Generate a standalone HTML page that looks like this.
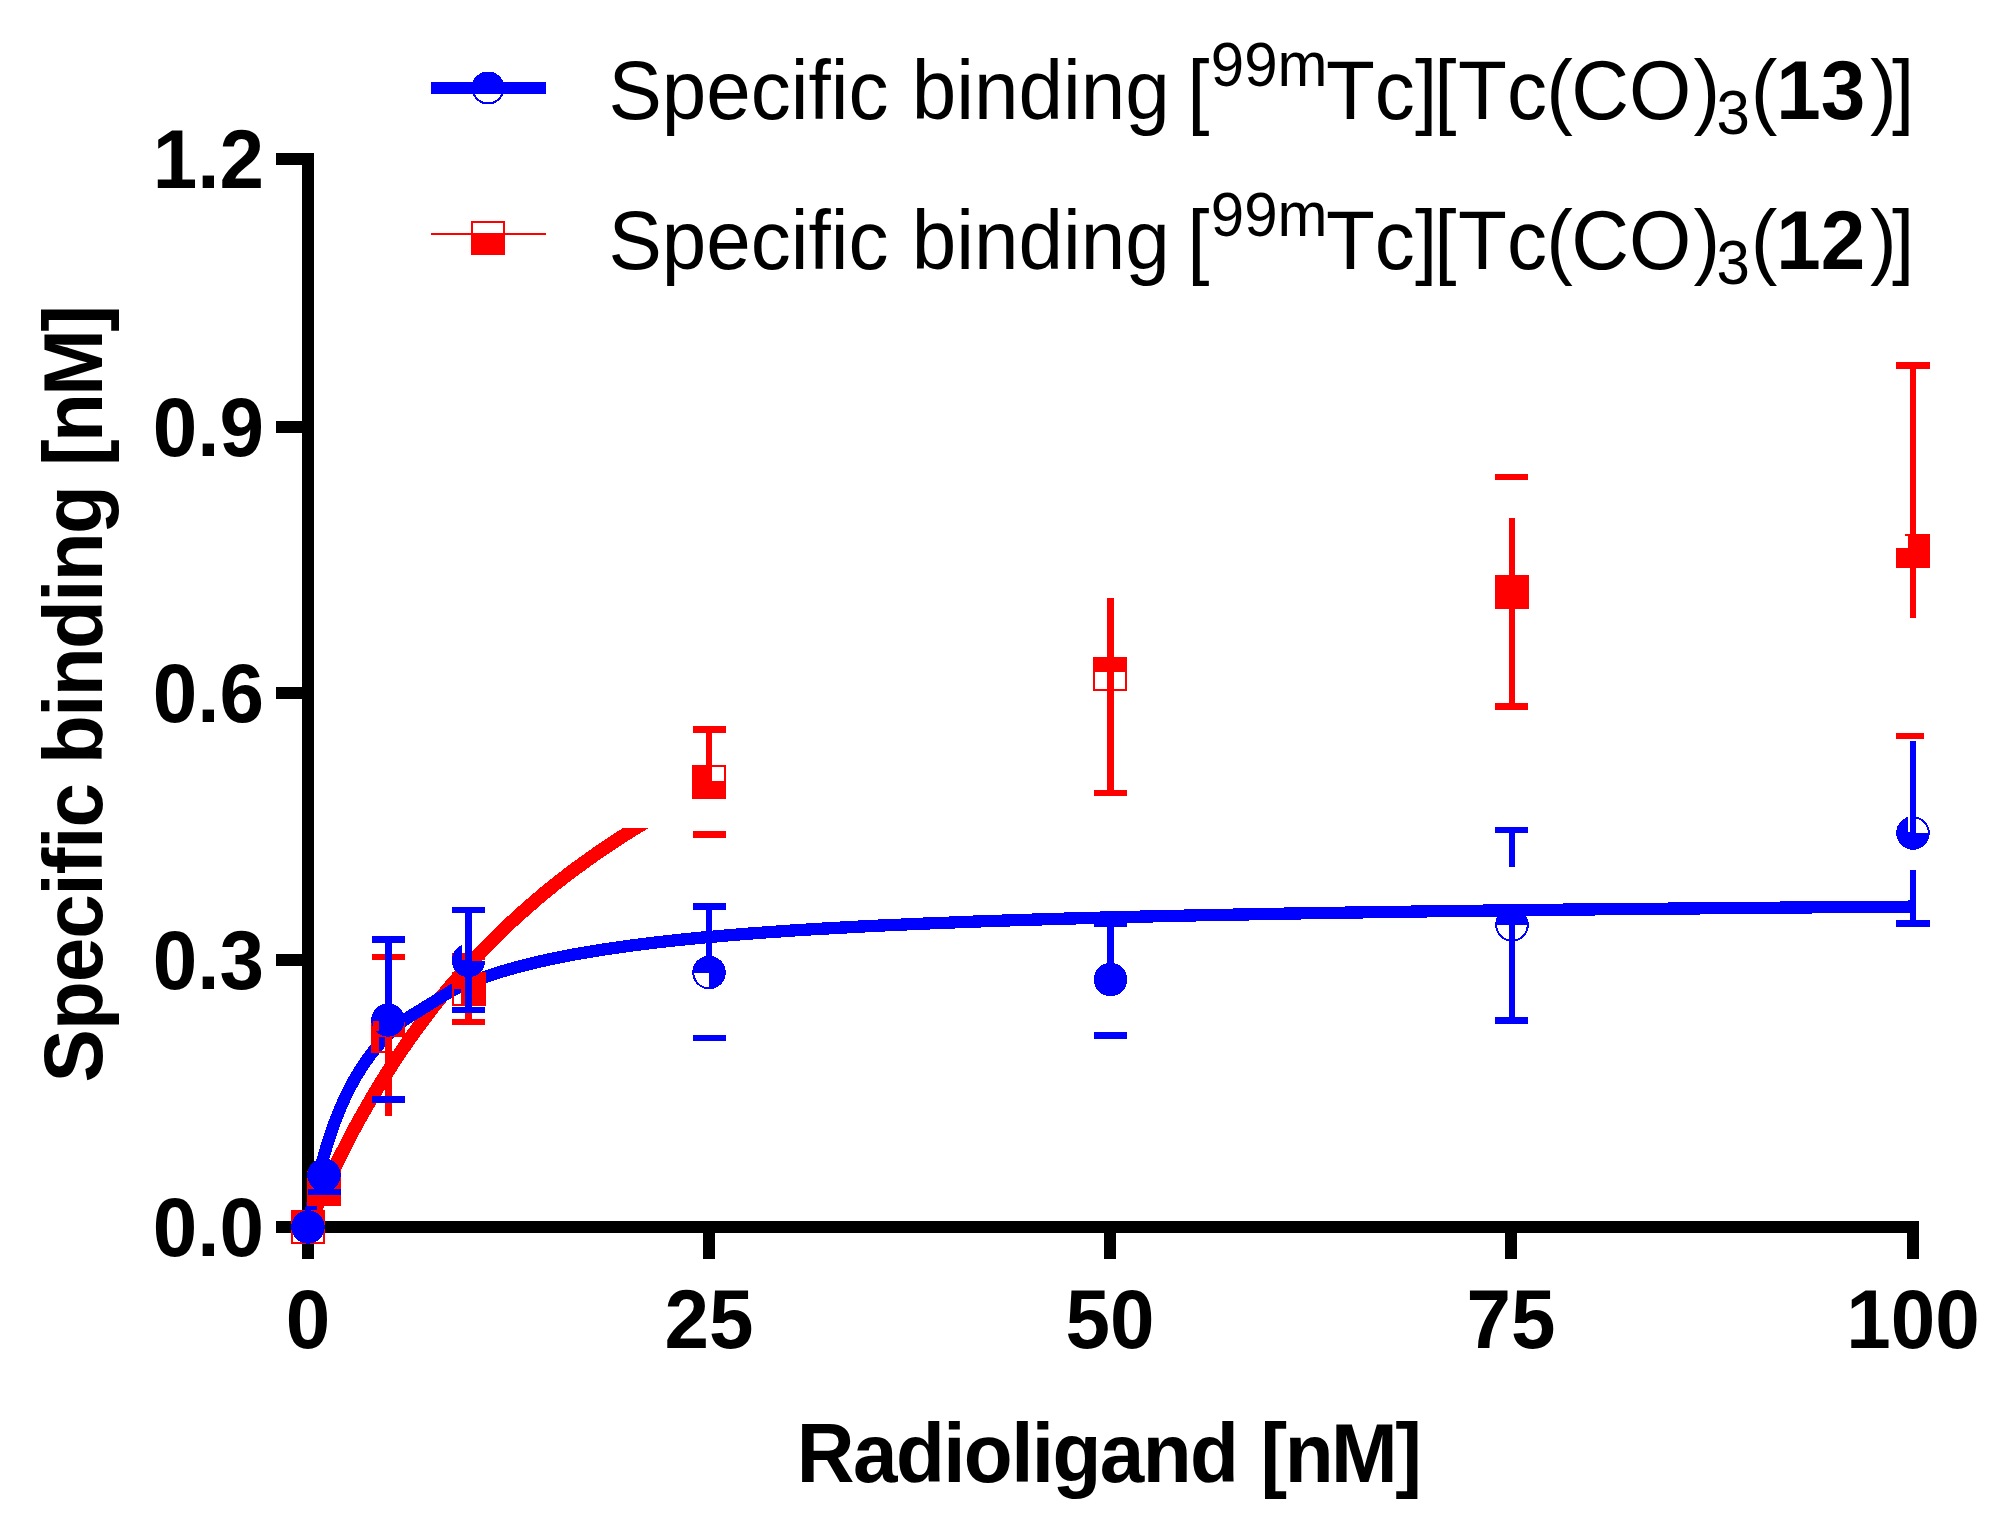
<!DOCTYPE html>
<html lang="en"><head><meta charset="utf-8"><title>Specific binding saturation curves</title>
<style>
html,body{margin:0;padding:0;background:#fff;}
body{width:2008px;height:1523px;overflow:hidden;}
svg{display:block;}
text{font-family:"Liberation Sans",sans-serif;fill:#000;font-kerning:none;}
.b{font-weight:bold;font-size:80px;}
.lg{font-size:80px;}
.ss{font-size:60px;}
.bd{font-weight:bold;}
</style></head><body>
<svg width="2008" height="1523" viewBox="0 0 2008 1523" shape-rendering="crispEdges">
<rect x="0" y="0" width="2008" height="1523" fill="#fff"/>
<g shape-rendering="crispEdges" fill="#000">
<rect x="302" y="153" width="12" height="1106" fill="#000"/>
<rect x="276" y="1221" width="1643" height="12" fill="#000"/>
<rect x="276" y="153" width="27" height="12" fill="#000"/>
<rect x="276" y="421" width="27" height="12" fill="#000"/>
<rect x="276" y="687" width="27" height="12" fill="#000"/>
<rect x="276" y="954" width="27" height="12" fill="#000"/>
<rect x="703" y="1232" width="12" height="27" fill="#000"/>
<rect x="1104" y="1232" width="12" height="27" fill="#000"/>
<rect x="1505" y="1232" width="12" height="27" fill="#000"/>
<rect x="1907" y="1232" width="12" height="27" fill="#000"/>
</g>
<text class="b" transform="translate(264,188) scale(1,1.04)" text-anchor="end">1.2</text>
<text class="b" transform="translate(264,456) scale(1,1.04)" text-anchor="end">0.9</text>
<text class="b" transform="translate(264,722) scale(1,1.04)" text-anchor="end">0.6</text>
<text class="b" transform="translate(264,989) scale(1,1.04)" text-anchor="end">0.3</text>
<text class="b" transform="translate(264,1256) scale(1,1.04)" text-anchor="end">0.0</text>
<text class="b" transform="translate(308,1347.8) scale(1,1.04)" text-anchor="middle">0</text>
<text class="b" transform="translate(709,1347.8) scale(1,1.04)" text-anchor="middle">25</text>
<text class="b" transform="translate(1110,1347.8) scale(1,1.04)" text-anchor="middle">50</text>
<text class="b" transform="translate(1511,1347.8) scale(1,1.04)" text-anchor="middle">75</text>
<text class="b" transform="translate(1913,1347.8) scale(1,1.04)" text-anchor="middle">100</text>
<text class="b" transform="translate(796.8,1482) scale(1,1.04)" style="letter-spacing:-1.57px">Radioligand</text>
<text class="b" transform="translate(1260.5,1482) scale(1,1.04)" style="letter-spacing:-2.5px">[nM]</text>
<text class="b" transform="translate(101.7,1082.4) rotate(-90) scale(1,1.04)" style="letter-spacing:-1.06px">Specific</text>
<text class="b" transform="translate(101.7,764) rotate(-90) scale(1,1.04)" style="letter-spacing:-1.65px">binding</text>
<text class="b" transform="translate(101.7,465.9) rotate(-90) scale(1,1.04)" style="letter-spacing:-2.67px">[nM]</text>
<text class="lg" transform="translate(0,119) scale(1,1.04)"><tspan x="608.5" y="0">Specific</tspan><tspan x="911.7" y="0">binding</tspan><tspan x="1187.2" y="0">[</tspan><tspan x="1210.8" y="-31.9231" class="ss">99m</tspan><tspan x="1325.9" y="0">Tc</tspan><tspan x="1414.9" y="0">]</tspan><tspan x="1434.3" y="0">[</tspan><tspan x="1458.1" y="0">Tc</tspan><tspan x="1546.3" y="0">(</tspan><tspan x="1571.2" y="0">CO</tspan><tspan x="1693.5" y="0">)</tspan><tspan x="1716.6" y="14.6154" class="ss">3</tspan><tspan x="1750.8" y="0">(</tspan><tspan x="1776.25" y="0" class="bd">13</tspan><tspan x="1870" y="0">)</tspan><tspan x="1891.9" y="0">]</tspan></text>
<text class="lg" transform="translate(0,269) scale(1,1.04)"><tspan x="608.5" y="0">Specific</tspan><tspan x="911.7" y="0">binding</tspan><tspan x="1187.2" y="0">[</tspan><tspan x="1210.8" y="-31.9231" class="ss">99m</tspan><tspan x="1325.9" y="0">Tc</tspan><tspan x="1414.9" y="0">]</tspan><tspan x="1434.3" y="0">[</tspan><tspan x="1458.1" y="0">Tc</tspan><tspan x="1546.3" y="0">(</tspan><tspan x="1571.2" y="0">CO</tspan><tspan x="1693.5" y="0">)</tspan><tspan x="1716.6" y="14.6154" class="ss">3</tspan><tspan x="1750.8" y="0">(</tspan><tspan x="1776.25" y="0" class="bd">12</tspan><tspan x="1870" y="0">)</tspan><tspan x="1891.9" y="0">]</tspan></text>
<g shape-rendering="crispEdges">
<rect x="431" y="82" width="115" height="12" fill="#0000ff"/>
</g>
<circle cx="488" cy="88" r="15.5" fill="#fff" stroke="#0000ff" stroke-width="2"/>
<path d="M471.5,88 A16.5,16.5 0 0 1 504.5,88 Z" fill="#0000ff"/>
<g shape-rendering="crispEdges">
<rect x="431" y="82" width="41" height="12" fill="#0000ff"/>
<rect x="504" y="82" width="42" height="12" fill="#0000ff"/>
<rect x="472" y="82" width="32" height="12" fill="#0000ff"/>
</g>
<g shape-rendering="crispEdges">
<rect x="431" y="233" width="115" height="2" fill="#ff0000"/>
<rect x="471" y="221" width="34" height="34" fill="#ff0000"/>
<rect x="473" y="223" width="30" height="10" fill="#fff"/>
</g>
<defs><clipPath id="rc"><rect x="300" y="828" width="500" height="420"/></clipPath></defs>
<path d="M308.0,1227.0 L311.2,1219.3 L314.4,1211.8 L317.6,1204.4 L320.8,1197.2 L324.1,1190.1 L327.3,1183.1 L330.5,1176.2 L333.7,1169.5 L336.9,1162.8 L340.1,1156.3 L343.3,1150.0 L346.5,1143.7 L349.7,1137.5 L352.9,1131.4 L356.1,1125.5 L359.4,1119.6 L362.6,1113.8 L365.8,1108.2 L369.0,1102.6 L372.2,1097.1 L375.4,1091.7 L378.6,1086.4 L381.8,1081.1 L385.0,1076.0 L388.2,1070.9 L391.5,1065.9 L394.7,1061.0 L397.9,1056.1 L401.1,1051.4 L404.3,1046.7 L407.5,1042.0 L410.7,1037.5 L413.9,1033.0 L417.1,1028.6 L420.4,1024.2 L423.6,1019.9 L426.8,1015.6 L430.0,1011.5 L433.2,1007.3 L436.4,1003.3 L439.6,999.3 L442.8,995.3 L446.0,991.4 L449.2,987.5 L452.5,983.7 L455.7,980.0 L458.9,976.3 L462.1,972.6 L465.3,969.0 L468.5,965.5 L471.7,962.0 L474.9,958.5 L478.1,955.1 L481.3,951.7 L484.6,948.4 L487.8,945.1 L491.0,941.8 L494.2,938.6 L497.4,935.5 L500.6,932.3 L503.8,929.2 L507.0,926.2 L510.2,923.1 L513.4,920.2 L516.6,917.2 L519.9,914.3 L523.1,911.4 L526.3,908.6 L529.5,905.8 L532.7,903.0 L535.9,900.2 L539.1,897.5 L542.3,894.8 L545.5,892.1 L548.8,889.5 L552.0,886.9 L555.2,884.3 L558.4,881.8 L561.6,879.3 L564.8,876.8 L568.0,874.3 L571.2,871.9 L574.4,869.5 L577.6,867.1 L580.9,864.8 L584.1,862.4 L587.3,860.1 L590.5,857.8 L593.7,855.6 L596.9,853.3 L600.1,851.1 L603.3,848.9 L606.5,846.8 L609.7,844.6 L613.0,842.5 L616.2,840.4 L619.4,838.3 L622.6,836.2 L625.8,834.2 L629.0,832.2 L632.2,830.2 L635.4,828.2 L638.6,826.2 L641.8,824.3 L645.0,822.3 L648.3,820.4 L651.5,818.5 L654.7,816.7 L657.9,814.8 L661.1,813.0 L664.3,811.2 L667.5,809.4 L670.7,807.6 L673.9,805.8 L677.2,804.0 L680.4,802.3 L683.6,800.6 L686.8,798.9 L690.0,797.2 L693.2,795.5" fill="none" stroke="#ff0000" stroke-width="13.5" stroke-linejoin="round" clip-path="url(#rc)"/>
<path d="M308.0,1227.0 L309.6,1218.1 L311.2,1209.6 L312.8,1201.6 L314.4,1193.9 L316.0,1186.7 L317.6,1179.8 L319.2,1173.2 L320.8,1166.9 L322.4,1160.8 L324.1,1155.1 L325.7,1149.6 L327.3,1144.3 L328.9,1139.2 L330.5,1134.3 L332.1,1129.7 L333.7,1125.2 L335.3,1120.8 L336.9,1116.7 L338.5,1112.7 L340.1,1108.8 L341.7,1105.0 L343.3,1101.4 L344.9,1097.9 L346.5,1094.6 L348.1,1091.3 L349.7,1088.1 L351.3,1085.1 L352.9,1082.1 L354.5,1079.3 L356.1,1076.5 L357.8,1073.8 L359.4,1071.1 L361.0,1068.6 L362.6,1066.1 L364.2,1063.7 L365.8,1061.4 L367.4,1059.1 L369.0,1056.9 L370.6,1054.7 L372.2,1052.6 L373.8,1050.6 L375.4,1048.6 L377.0,1046.7 L378.6,1044.8 L380.2,1042.9 L381.8,1041.1 L383.4,1039.4 L385.0,1037.7 L386.6,1036.0 L388.2,1034.4 L389.9,1032.8 L391.5,1031.2 L393.1,1029.7 L394.7,1028.2 L396.3,1026.7 L397.9,1025.3 L399.5,1023.9 L401.1,1022.5 L402.7,1021.2 L404.3,1019.9 L452.5,990.2 L460.5,986.6 L468.5,983.2 L476.5,980.1 L484.6,977.2 L492.6,974.4 L500.6,971.9 L508.6,969.5 L516.6,967.3 L524.7,965.2 L532.7,963.2 L540.7,961.3 L548.8,959.5 L556.8,957.8 L564.8,956.2 L572.8,954.7 L580.9,953.3 L588.9,951.9 L596.9,950.6 L604.9,949.3 L613.0,948.1 L621.0,947.0 L629.0,945.9 L637.0,944.8 L645.0,943.8 L653.1,942.8 L661.1,941.9 L669.1,941.0 L677.2,940.1 L685.2,939.3 L693.2,938.5 L701.2,937.7 L709.2,937.0 L717.3,936.3 L725.3,935.6 L733.3,934.9 L741.4,934.2 L749.4,933.6 L757.4,933.0 L765.4,932.4 L773.5,931.8 L781.5,931.3 L789.5,930.7 L797.5,930.2 L805.5,929.7 L813.6,929.2 L821.6,928.7 L829.6,928.3 L837.6,927.8 L845.7,927.4 L853.7,926.9 L861.7,926.5 L869.8,926.1 L877.8,925.7 L885.8,925.3 L893.8,925.0 L901.9,924.6 L909.9,924.2 L917.9,923.9 L925.9,923.5 L934.0,923.2 L942.0,922.9 L950.0,922.6 L958.0,922.2 L966.1,921.9 L974.1,921.6 L982.1,921.3 L990.1,921.1 L998.1,920.8 L1006.2,920.5 L1014.2,920.2 L1022.2,920.0 L1030.2,919.7 L1038.3,919.5 L1046.3,919.2 L1054.3,919.0 L1062.3,918.7 L1070.4,918.5 L1078.4,918.3 L1086.4,918.1 L1094.5,917.8 L1102.5,917.6 L1110.5,917.4 L1118.5,917.2 L1126.6,917.0 L1134.6,916.8 L1142.6,916.6 L1150.6,916.4 L1158.7,916.2 L1166.7,916.0 L1174.7,915.9 L1182.7,915.7 L1190.8,915.5 L1198.8,915.3 L1206.8,915.2 L1214.8,915.0 L1222.8,914.8 L1230.9,914.7 L1238.9,914.5 L1246.9,914.4 L1255.0,914.2 L1263.0,914.0 L1271.0,913.9 L1279.0,913.8 L1287.1,913.6 L1295.1,913.5 L1303.1,913.3 L1311.1,913.2 L1319.2,913.0 L1327.2,912.9 L1335.2,912.8 L1343.2,912.7 L1351.2,912.5 L1359.3,912.4 L1367.3,912.3 L1375.3,912.2 L1383.4,912.0 L1391.4,911.9 L1399.4,911.8 L1407.4,911.7 L1415.5,911.6 L1423.5,911.4 L1431.5,911.3 L1439.5,911.2 L1447.5,911.1 L1455.6,911.0 L1463.6,910.9 L1471.6,910.8 L1479.7,910.7 L1487.7,910.6 L1495.7,910.5 L1503.7,910.4 L1511.8,910.3 L1519.8,910.2 L1527.8,910.1 L1535.8,910.0 L1543.9,909.9 L1551.9,909.8 L1559.9,909.7 L1567.9,909.6 L1576.0,909.6 L1584.0,909.5 L1592.0,909.4 L1600.0,909.3 L1608.0,909.2 L1616.1,909.1 L1624.1,909.1 L1632.1,909.0 L1640.2,908.9 L1648.2,908.8 L1656.2,908.7 L1664.2,908.7 L1672.2,908.6 L1680.3,908.5 L1688.3,908.4 L1696.3,908.4 L1704.4,908.3 L1712.4,908.2 L1720.4,908.1 L1728.4,908.1 L1736.5,908.0 L1744.5,907.9 L1752.5,907.9 L1760.5,907.8 L1768.5,907.7 L1776.6,907.7 L1784.6,907.6 L1792.6,907.5 L1800.7,907.5 L1808.7,907.4 L1816.7,907.3 L1824.7,907.3 L1832.8,907.2 L1840.8,907.1 L1848.8,907.1 L1856.8,907.0 L1864.9,907.0 L1872.9,906.9 L1880.9,906.8 L1888.9,906.8 L1897.0,906.7 L1905.0,906.7 L1913.0,906.6" fill="none" stroke="#0000ff" stroke-width="12.3" stroke-linejoin="round"/>
<g shape-rendering="crispEdges">
<rect x="291" y="1210" width="34" height="19" fill="#ff0000"/>
<rect x="291" y="1229" width="2" height="15" fill="#ff0000"/>
<rect x="323" y="1229" width="2" height="15" fill="#ff0000"/>
<rect x="291" y="1242" width="34" height="2" fill="#ff0000"/>
<rect x="307" y="1171" width="34" height="35" fill="#ff0000"/>
<rect x="317" y="1206" width="5" height="5" fill="#ff0000"/>
<rect x="385" y="954" width="7" height="162" fill="#ff0000"/>
<rect x="372" y="954" width="33" height="6" fill="#ff0000"/>
<rect x="371" y="1020" width="34" height="17" fill="#ff0000"/>
<rect x="371" y="1037" width="8" height="16" fill="#ff0000"/>
<rect x="379" y="1051" width="26" height="2" fill="#ff0000"/>
<rect x="403" y="1037" width="2" height="16" fill="#ff0000"/>
<rect x="465" y="953" width="7" height="72" fill="#ff0000"/>
<rect x="452" y="953" width="33" height="7" fill="#ff0000"/>
<rect x="452" y="1019" width="33" height="6" fill="#ff0000"/>
<rect x="452" y="972" width="34" height="17" fill="#ff0000"/>
<rect x="452" y="989" width="2" height="17" fill="#ff0000"/>
<rect x="461" y="989" width="25" height="17" fill="#ff0000"/>
<rect x="454" y="1004" width="7" height="2" fill="#ff0000"/>
<rect x="693" y="726" width="33" height="7" fill="#ff0000"/>
<rect x="706" y="726" width="6" height="56" fill="#ff0000"/>
<rect x="693" y="831" width="33" height="7" fill="#ff0000"/>
<rect x="692" y="765" width="34" height="34" fill="#ff0000"/>
<rect x="712" y="767" width="12" height="14" fill="#fff"/>
<rect x="1107" y="598" width="7" height="198" fill="#ff0000"/>
<rect x="1094" y="790" width="33" height="6" fill="#ff0000"/>
<rect x="1093" y="657" width="34" height="34" fill="#ff0000"/>
<rect x="1095" y="672" width="12" height="17" fill="#fff"/>
<rect x="1114" y="672" width="11" height="17" fill="#fff"/>
<rect x="1495" y="474" width="33" height="6" fill="#ff0000"/>
<rect x="1509" y="518" width="6" height="192" fill="#ff0000"/>
<rect x="1495" y="703" width="33" height="7" fill="#ff0000"/>
<rect x="1495" y="575" width="34" height="34" fill="#ff0000"/>
<rect x="1896" y="362" width="34" height="7" fill="#ff0000"/>
<rect x="1910" y="362" width="6" height="256" fill="#ff0000"/>
<rect x="1896" y="733" width="28" height="6" fill="#ff0000"/>
<rect x="1896" y="534" width="34" height="34" fill="#ff0000"/>
<rect x="1896" y="534" width="12" height="14" fill="#fff"/>
<rect x="1905" y="534" width="3" height="2" fill="#ff0000"/>
</g>
<g shape-rendering="crispEdges">
<rect x="308" y="1189" width="33" height="6" fill="#0000ff"/>
<rect x="372" y="936" width="33" height="7" fill="#0000ff"/>
<rect x="385" y="936" width="7" height="84" fill="#0000ff"/>
<rect x="372" y="1096" width="33" height="7" fill="#0000ff"/>
<rect x="452" y="907" width="33" height="6" fill="#0000ff"/>
<rect x="465" y="907" width="7" height="106" fill="#0000ff"/>
<rect x="452" y="1007" width="33" height="6" fill="#0000ff"/>
<rect x="693" y="903" width="33" height="7" fill="#0000ff"/>
<rect x="706" y="903" width="6" height="69" fill="#0000ff"/>
<rect x="693" y="1035" width="33" height="6" fill="#0000ff"/>
<rect x="1094" y="920" width="33" height="7" fill="#0000ff"/>
<rect x="1107" y="920" width="7" height="60" fill="#0000ff"/>
<rect x="1094" y="1032" width="33" height="7" fill="#0000ff"/>
<rect x="1495" y="827" width="33" height="6" fill="#0000ff"/>
<rect x="1509" y="827" width="6" height="40" fill="#0000ff"/>
<rect x="1509" y="925" width="6" height="99" fill="#0000ff"/>
<rect x="1495" y="1017" width="33" height="7" fill="#0000ff"/>
<rect x="1910" y="741" width="6" height="92" fill="#0000ff"/>
<rect x="1910" y="870" width="6" height="57" fill="#0000ff"/>
<rect x="1896" y="920" width="34" height="7" fill="#0000ff"/>
</g>
<circle cx="308" cy="1227" r="16.75" fill="#0000ff"/>
<circle cx="324" cy="1175" r="16.75" fill="#0000ff"/>
<circle cx="388" cy="1020" r="16.75" fill="#0000ff"/>
<path d="M468.5,960.5 L485.25,960.50 A16.75,16.75 0 0 1 451.75,960.50 Z" fill="#0000ff"/>
<path d="M468.5,960.5 L451.75,960.50 A16.75,16.75 0 0 1 468.50,943.75 Z" fill="#0000ff"/>
<circle cx="709" cy="972.5" r="15.75" fill="none" stroke="#0000ff" stroke-width="2"/>
<path d="M709,972.5 L692.25,972.50 A16.75,16.75 0 1 1 709.00,989.25 Z" fill="#0000ff"/>
<circle cx="1110.5" cy="979.5" r="16.75" fill="#0000ff"/>
<circle cx="1512" cy="925" r="15.75" fill="none" stroke="#0000ff" stroke-width="2"/>
<path d="M1512,925 L1495.25,925.00 A16.75,16.75 0 0 1 1528.75,925.00 Z" fill="#0000ff"/>
<circle cx="1913" cy="833" r="15.75" fill="none" stroke="#0000ff" stroke-width="2"/>
<path d="M1913,833 L1929.75,833.00 A16.75,16.75 0 0 1 1896.25,833.00 Z" fill="#0000ff"/>
<path d="M1913,833 L1896.25,833.00 A16.75,16.75 0 0 1 1913.00,816.25 Z" fill="#0000ff"/>
<g shape-rendering="crispEdges">
<rect x="462" y="940" width="3" height="13" fill="#fff"/>
<rect x="462" y="953" width="3" height="7" fill="#ff0000"/>
<rect x="1908" y="816" width="2" height="16" fill="#fff"/>
<rect x="373" y="1021" width="6" height="10" fill="#ff0000"/>
</g>
</svg>
</body></html>
